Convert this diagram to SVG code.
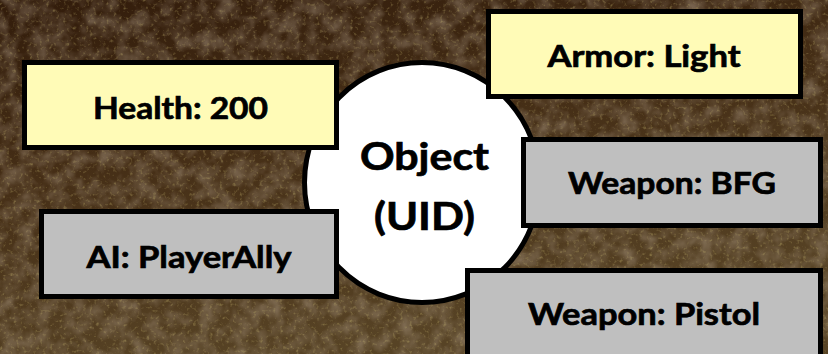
<svg xmlns="http://www.w3.org/2000/svg" width="828" height="354" viewBox="0 0 828 354">
  <defs>
    <linearGradient id="bgGrad" x1="0" y1="0" x2="0.35" y2="1">
      <stop offset="0" stop-color="#321c0b"/>
      <stop offset="0.45" stop-color="#452e16"/>
      <stop offset="1" stop-color="#574325"/>
    </linearGradient>
    <filter id="grain" x="0" y="0" width="100%" height="100%">
      <feTurbulence type="fractalNoise" baseFrequency="0.06" numOctaves="3" seed="7" result="n"/>
      <feColorMatrix in="n" type="matrix" values="0 0 0 0 0.42  0 0 0 0 0.33  0 0 0 0 0.24  0 0 0 0.9 -0.32" result="spots"/>
      <feTurbulence type="fractalNoise" baseFrequency="0.3" numOctaves="2" seed="3" result="n2"/>
      <feColorMatrix in="n2" type="matrix" values="0 0 0 0 0.55  0 0 0 0 0.45  0 0 0 0 0.15  0 0 0 1.2 -0.68" result="specks"/>
      <feMerge>
        <feMergeNode in="spots"/>
        <feMergeNode in="specks"/>
      </feMerge>
    </filter>
    <style>
      .box { stroke: #000; stroke-width: 5; }
      .yellow { fill: #fffbb7; }
      .gray { fill: #bfbfbf; }
      .lbl { font-family: "Lato", "Open Sans", "Liberation Sans", sans-serif; font-weight: bold; fill: #000; stroke: #000; stroke-width: 0.7; text-anchor: middle; }
      .small { font-size: 31px; }
      .big { font-size: 38px; }
    </style>
  </defs>

  <g id="background">
    <rect x="0" y="0" width="828" height="354" fill="url(#bgGrad)"/>
    <rect x="0" y="0" width="828" height="354" filter="url(#grain)"/>
  </g>

  <g id="connectors"/>

  <g id="object">
    <ellipse cx="422" cy="182.5" rx="117.5" ry="120" fill="#fff" stroke="#000" stroke-width="5"/>
    <text class="lbl big" x="424.5" y="170" textLength="129" lengthAdjust="spacingAndGlyphs">Object</text>
    <text class="lbl big" x="424.5" y="230" textLength="101" lengthAdjust="spacingAndGlyphs">(UID)</text>
  </g>

  <g id="health">
    <rect class="box yellow" x="24.5" y="62.5" width="312" height="85"/>
    <text class="lbl small" x="180.5" y="119" textLength="175" lengthAdjust="spacingAndGlyphs">Health: 200</text>
  </g>

  <g id="armor">
    <rect class="box yellow" x="488.5" y="11.5" width="312" height="85"/>
    <text class="lbl small" x="644" y="67" textLength="193" lengthAdjust="spacingAndGlyphs">Armor: Light</text>
  </g>

  <g id="weapon-bfg">
    <rect class="box gray" x="523.5" y="139.5" width="297" height="86"/>
    <text class="lbl small" x="672" y="194" textLength="208" lengthAdjust="spacingAndGlyphs">Weapon: BFG</text>
  </g>

  <g id="ai">
    <rect class="box gray" x="41.5" y="211.5" width="295" height="85"/>
    <text class="lbl small" x="189" y="268" textLength="205" lengthAdjust="spacingAndGlyphs">AI: PlayerAlly</text>
  </g>

  <g id="weapon-pistol">
    <rect class="box gray" x="467.5" y="270.5" width="353" height="90"/>
    <text class="lbl small" x="644" y="325" textLength="232" lengthAdjust="spacingAndGlyphs">Weapon: Pistol</text>
  </g>
</svg>
